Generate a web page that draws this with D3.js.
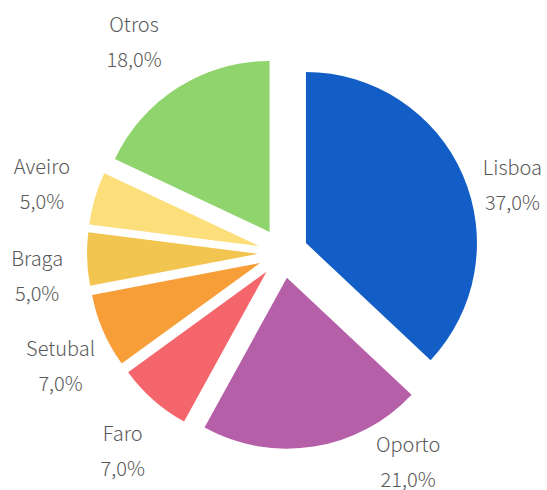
<!doctype html>
<html>
  <head>
    <script src="https://cdnjs.cloudflare.com/ajax/libs/d3/7.8.5/d3.min.js"></script>
    <style>
      body { margin: 0; background: #fff; }
      text.label {
        font-family: "Noto Sans CJK JP", "Noto Sans", sans-serif;
        font-size: 20px;
        font-weight: 300;
        fill: #595959;
      }
    </style>
  </head>
  <body>
    <svg id="chart" width="547" height="490"></svg>
    <script>
      // data
      var cities = ["Lisboa", "Oporto", "Faro", "Setubal", "Braga", "Aveiro", "Otros"];
      var shares = [37, 21, 7, 7, 5, 5, 18];
      var colors = ["#135EC6", "#B55FA8", "#F4666C", "#F79E39", "#F1C54F", "#FCDE7B", "#8FD46D"];

      // layout
      var cx = 283, cy = 253, radius = 171, explode = 25, labelR = 250;
      // excel pushes some labels around to keep them inside the frame
      var labelNudge = {
        Lisboa: [0, 31], Oporto: [86, -38], Faro: [5, 10], Setubal: [7, 14],
        Braga: [4, 15], Aveiro: [-1, 1], Otros: [-15, 0]
      };

      var data = cities.map((c, i) => ({ city: c, value: shares[i], color: colors[i] }));

      var pie = d3.pie().sort(null).value(d => d.value);
      var arc = d3.arc().innerRadius(0).outerRadius(radius);
      var fmt = v => d3.format(".1f")(v).replace(".", ",") + "%";
      var total = d3.sum(shares);

      var svg = d3.select("#chart");
      var g = svg.append("g").attr("transform", "translate(" + cx + "," + cy + ")");

      var arcs = pie(data);
      arcs.forEach(a => {
        a.mid = (a.startAngle + a.endAngle) / 2;
        a.dx = Math.sin(a.mid);
        a.dy = -Math.cos(a.mid);
      });

      g.selectAll("path.slice").data(arcs)
        .enter()
        .append("path")
          .attr("class", "slice")
          .attr("d", arc)
          .attr("fill", d => d.data.color)
          .attr("transform", d => "translate(" + d.dx * explode + "," + d.dy * explode + ")");

      var labels = g.selectAll("text.label").data(arcs)
        .enter()
        .append("text")
          .attr("class", "label")
          .attr("text-anchor", "middle")
          .attr("transform", d => {
            var n = labelNudge[d.data.city];
            return "translate(" + (d.dx * labelR + n[0]) + "," + (d.dy * labelR + n[1]) + ")";
          });

      labels.append("tspan")
          .attr("x", 0)
          .attr("y", -10)
          .text(d => d.data.city);
      labels.append("tspan")
          .attr("x", 0)
          .attr("y", 25)
          .text(d => fmt(d.data.value / total * 100));
    </script>
  </body>
</html>
